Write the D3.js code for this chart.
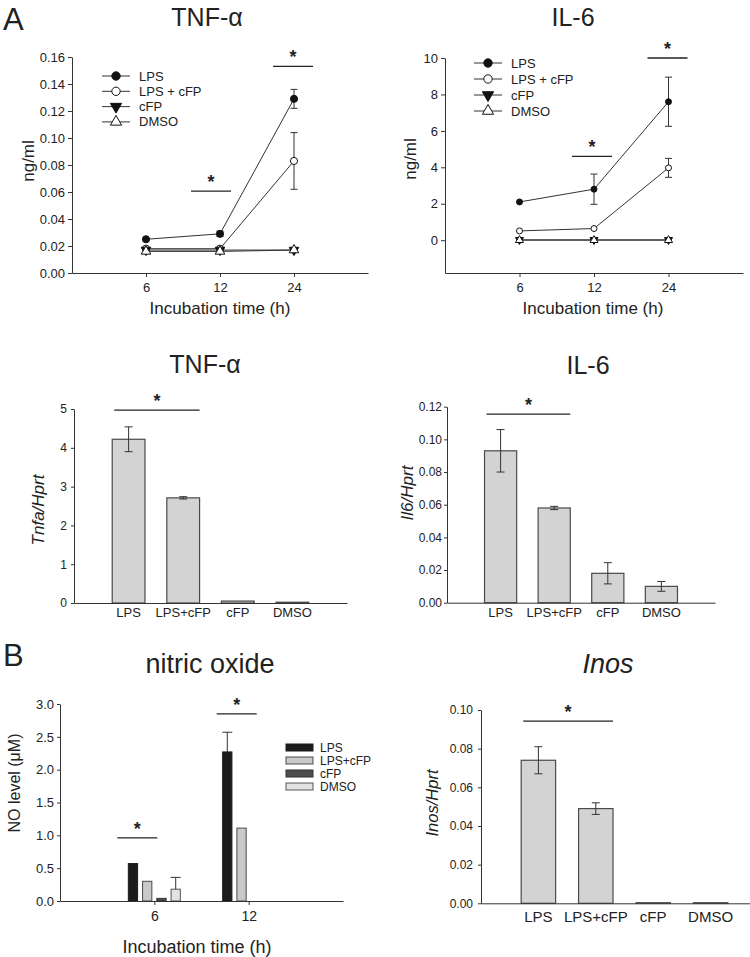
<!DOCTYPE html>
<html>
<head>
<meta charset="utf-8">
<script src="https://cdn.jsdelivr.net/npm/d3@7"></script>
<style>
  body { margin: 0; background: #fff; }
  svg { display: block; font-family: "Liberation Sans", Arial, sans-serif; }
</style>
</head>
<body>
<svg id="fig" width="750" height="957"></svg>
<script>
// ---- data ----
var timePoints = [6, 12, 24];
var lineGroups = ["LPS", "LPS + cFP", "cFP", "DMSO"];

// secreted protein, ng/ml  (rows = LPS, LPS+cFP, cFP, DMSO ; cols = 6, 12, 24 h)
var tnfMean = [[0.025, 0.029, 0.129], [0.018, 0.018, 0.083], [0.017, 0.017, 0.017], [0.016, 0.016, 0.017]];
var tnfErr  = [[0.0006, 0.002, 0.007], [0.0005, 0.0005, 0.021], [0, 0, 0], [0, 0, 0]];
var il6Mean = [[2.1, 2.8, 7.6], [0.51, 0.64, 3.97], [0.02, 0.02, 0.02], [0.0, 0.0, 0.0]];
var il6Err  = [[0.05, 0.83, 1.35], [0, 0.05, 0.52], [0, 0, 0], [0, 0, 0]];

// mRNA relative to Hprt
var barCats = ["LPS", "LPS+cFP", "cFP", "DMSO"];
var tnfaHprt = [4.22, 2.71, 0.05, 0.02];
var tnfaHprtErr = [0.32, 0.03, 0, 0];
var il6Hprt = [0.093, 0.058, 0.018, 0.010];
var il6HprtErr = [0.013, 0.001, 0.0065, 0.003];
var inosHprt = [0.074, 0.049, 0.0003, 0.0003];
var inosHprtErr = [0.007, 0.003, 0, 0];

// nitric oxide, uM  (rows = LPS, LPS+cFP, cFP, DMSO ; cols = 6, 12 h)
var noTimes = [6, 12];
var noGroups = ["LPS", "LPS+cFP", "cFP", "DMSO"];
var noMean = [[0.57, 2.27], [0.30, 1.11], [0.04, 0], [0.18, 0]];
var noErr  = [[0, 0.30], [0, 0], [0, 0], [0.18, 0]];

// ---- drawing ----
var svg = d3.select("#fig");
var ink = "#222";
var axisInk = "#333";

function styleAxis(g, size) {
  g.attr("font-family", null).attr("font-size", null);
  g.selectAll("path, line").attr("stroke", axisInk).attr("stroke-width", 1);
  g.selectAll("text").attr("font-size", size).attr("fill", ink);
}

function label(x, y, txt, size, opts) {
  opts = opts || {};
  var t = svg.append("text")
    .attr("x", x).attr("y", y)
    .attr("font-size", size)
    .attr("fill", ink)
    .attr("text-anchor", opts.anchor || "middle")
    .text(txt);
  if (opts.italic) t.attr("font-style", "italic");
  return t;
}

function yLabel(x, y, txt, size, italic) {
  svg.append("text")
    .attr("transform", `translate(${x},${y}) rotate(-90)`)
    .attr("text-anchor", "middle")
    .attr("dominant-baseline", "central")
    .attr("font-size", size)
    .attr("font-style", italic ? "italic" : null)
    .attr("fill", ink)
    .text(txt);
}

function sigBar(cx, y, half) {
  svg.append("line")
    .attr("x1", cx - half).attr("x2", cx + half)
    .attr("y1", y).attr("y2", y)
    .attr("stroke", ink).attr("stroke-width", 1.3);
  svg.append("text")
    .attr("x", cx).attr("y", y - 3)
    .attr("text-anchor", "middle")
    .attr("font-size", 18).attr("font-weight", "bold")
    .attr("fill", ink)
    .text("*");
}

function errBar(g, x, y0, y1, cap, color) {
  g.append("line").attr("x1", x).attr("x2", x).attr("y1", y0).attr("y2", y1)
    .attr("stroke", color).attr("stroke-width", 1);
  g.append("line").attr("x1", x - cap / 2).attr("x2", x + cap / 2).attr("y1", y1).attr("y2", y1)
    .attr("stroke", color).attr("stroke-width", 1);
}

var markerStyle = [
  { shape: d3.symbolCircle, fill: "#111", rot: 0 },
  { shape: d3.symbolCircle, fill: "#fff", rot: 0 },
  { shape: d3.symbolTriangle, fill: "#111", rot: 180 },
  { shape: d3.symbolTriangle, fill: "#fff", rot: 0 }
];

function marker(g, x, y, i, area) {
  var m = markerStyle[i];
  g.append("path")
    .attr("d", d3.symbol().type(m.shape).size(area)())
    .attr("transform", `translate(${x},${y}) rotate(${m.rot})`)
    .attr("fill", m.fill)
    .attr("stroke", "#111")
    .attr("stroke-width", 1);
}

function lineChart(o) {
  var x = d3.scaleLog().domain([3, 48]).range([o.left, o.right]);
  var y = d3.scaleLinear().domain(o.yDomain).range([o.bottom, o.top]);
  var g = svg.append("g");

  g.append("g")
    .attr("transform", `translate(0,${o.bottom})`)
    .call(d3.axisBottom(x).tickValues(timePoints).tickFormat(d3.format("d"))
      .tickSize(4).tickSizeOuter(0).tickPadding(6))
    .call(styleAxis, 13);

  g.append("g")
    .attr("transform", `translate(${o.left},0)`)
    .call(d3.axisLeft(y).tickValues(o.yTicks).tickFormat(o.fmt)
      .tickSize(4).tickSizeOuter(0).tickPadding(3))
    .call(styleAxis, 13);

  var line = d3.line().x(d => x(d.t)).y(d => y(d.v));
  lineGroups.forEach(function(name, i) {
    var pts = timePoints.map((t, j) => ({ t: t, v: o.mean[i][j], e: o.err[i][j] }));
    g.append("path").datum(pts)
      .attr("d", line)
      .attr("fill", "none")
      .attr("stroke", "#333")
      .attr("stroke-width", 1);
    pts.forEach(function(p) {
      if (p.e > 0.0008 * (o.yDomain[1] - o.yDomain[0]) * 10) {
        errBar(g, x(p.t), y(p.v), y(p.v + p.e), 7, "#333");
        errBar(g, x(p.t), y(p.v), y(p.v - p.e), 7, "#333");
      }
    });
  });
  lineGroups.forEach(function(name, i) {
    timePoints.forEach(function(t, j) {
      marker(g, x(t), y(o.mean[i][j]), i, o.markerArea);
    });
  });

  // legend
  lineGroups.forEach(function(name, i) {
    var ly = o.legY + i * o.legDy;
    g.append("line")
      .attr("x1", o.legX).attr("x2", o.legX + 28)
      .attr("y1", ly).attr("y2", ly)
      .attr("stroke", "#333").attr("stroke-width", 1);
    marker(g, o.legX + 14, ly, i, 55);
    g.append("text")
      .attr("x", o.legX + 37).attr("y", ly + 4.5)
      .attr("font-size", 13).attr("fill", ink)
      .text(name);
  });

  o.sig.forEach(s => sigBar(x(s.at) + s.dx, y(s.y), 20));
  return { x: x, y: y };
}

function barChart(o) {
  var x = d3.scaleBand().domain(barCats).range([o.left, o.right])
    .paddingInner(0.4).paddingOuter(0.7);
  var y = d3.scaleLinear().domain([0, o.max]).range([o.bottom, o.top]);
  var g = svg.append("g");

  g.append("g")
    .attr("transform", `translate(${o.left},0)`)
    .call(d3.axisLeft(y).tickValues(o.yTicks).tickFormat(o.fmt)
      .tickSize(3).tickSizeOuter(0).tickPadding(o.tickPad || 3))
    .call(styleAxis, o.tickFont || 12);

  g.selectAll("rect.bar")
    .data(barCats)
    .enter()
    .append("rect")
    .attr("class", "bar")
    .attr("x", d => x(d))
    .attr("y", (d, i) => y(o.values[i]))
    .attr("width", x.bandwidth())
    .attr("height", (d, i) => y(0) - y(o.values[i]))
    .attr("fill", "#d3d3d3")
    .attr("stroke", "#4a4a4a")
    .attr("stroke-width", 1.2);

  barCats.forEach(function(c, i) {
    var e = o.errors[i];
    if (e > 0) {
      var cx = x(c) + x.bandwidth() / 2;
      errBar(g, cx, y(o.values[i]), y(o.values[i] + e), 8, "#333");
      errBar(g, cx, y(o.values[i]), y(o.values[i] - e), 8, "#333");
    }
  });

  g.append("g")
    .attr("transform", `translate(0,${o.bottom})`)
    .call(d3.axisBottom(x).tickSize(0).tickSizeOuter(0).tickPadding(o.labelPad))
    .call(styleAxis, o.labelFont);

  var x1 = x(barCats[0]) + 2, x2 = x(barCats[1]) + x.bandwidth();
  sigBar((x1 + x2) / 2, y(o.sigY), (x2 - x1) / 2);
  return { x: x, y: y };
}

// ---- panel A, top row: secreted cytokines ----
label(3, 30, "A", 31, { anchor: "start" });

label(207, 26, "TNF-\u03b1", 25);
lineChart({
  left: 72, right: 368, top: 57, bottom: 273,
  yDomain: [0, 0.16], yTicks: d3.range(0, 0.161, 0.02), fmt: d3.format(".2f"),
  mean: tnfMean, err: tnfErr, markerArea: 40,
  legX: 102, legY: 76, legDy: 15.3,
  sig: [{ at: 12, dx: -9, y: 0.0607 }, { at: 24, dx: -1, y: 0.153 }]
});
yLabel(28, 161, "ng/ml", 17);
label(220, 314, "Incubation time (h)", 17);

label(573, 26, "IL-6", 25);
lineChart({
  left: 445, right: 743, top: 58, bottom: 273,
  yDomain: [-1.8, 10], yTicks: d3.range(0, 10.1, 2), fmt: d3.format("d"),
  mean: il6Mean, err: il6Err, markerArea: 28,
  legX: 474, legY: 63, legDy: 16,
  sig: [{ at: 12, dx: -2, y: 4.6 }, { at: 24, dx: -1, y: 10.0 }]
});
yLabel(410, 159, "ng/ml", 17);
label(593, 314, "Incubation time (h)", 17);

// ---- panel A, middle row: mRNA ----
label(205, 373, "TNF-\u03b1", 25);
barChart({
  left: 74, right: 347, top: 409, bottom: 603,
  max: 5, yTicks: d3.range(0, 5.1, 1), fmt: d3.format("d"), tickPad: 4,
  values: tnfaHprt, errors: tnfaHprtErr, sigY: 4.97,
  labelPad: 5, labelFont: 13
});
yLabel(38, 510, "Tnfa/Hprt", 17, true);

label(588, 374, "IL-6", 25);
barChart({
  left: 447, right: 715, top: 406.7, bottom: 602.7,
  max: 0.12, yTicks: d3.range(0, 0.121, 0.02), fmt: d3.format(".2f"), tickPad: 2,
  values: il6Hprt, errors: il6HprtErr, sigY: 0.1154,
  labelPad: 5, labelFont: 13
});
yLabel(407, 493, "Il6/Hprt", 17, true);

// ---- panel B: nitric oxide ----
label(3, 666, "B", 31, { anchor: "start" });
label(210, 673, "nitric oxide", 27);

var noColors = ["#1c1c1c", "#c9c9c9", "#4d4d4d", "#e2e2e2"];
var noStroke = ["#1c1c1c", "#4a4a4a", "#333", "#555"];

var xNo = d3.scaleLinear().domain([0, 18]).range([60, 343]);
var yNo = d3.scaleLinear().domain([0, 3]).range([901, 704]);
var xSub = d3.scaleBand().domain(noGroups).range([-26, 26]).paddingInner(0.35);

var gNo = svg.append("g");
gNo.append("g")
  .attr("transform", "translate(60,0)")
  .call(d3.axisLeft(yNo).tickValues(d3.range(0, 3.01, 0.5)).tickFormat(d3.format(".1f"))
    .tickSize(3).tickSizeOuter(0).tickPadding(3))
  .call(styleAxis, 13);

noGroups.forEach(function(gname, i) {
  noTimes.forEach(function(t, j) {
    var v = noMean[i][j];
    if (v <= 0) return;
    var bx = xNo(t) + xSub(gname);
    gNo.append("rect")
      .attr("x", bx).attr("y", yNo(v))
      .attr("width", xSub.bandwidth())
      .attr("height", yNo(0) - yNo(v))
      .attr("fill", noColors[i])
      .attr("stroke", noStroke[i]).attr("stroke-width", 1);
    if (noErr[i][j] > 0) {
      errBar(gNo, bx + xSub.bandwidth() / 2, yNo(v), yNo(v + noErr[i][j]), 10, "#333");
    }
  });
});

gNo.append("g")
  .attr("transform", "translate(0,901)")
  .call(d3.axisBottom(xNo).tickValues(noTimes).tickFormat(d3.format("d"))
    .tickSize(4).tickSizeOuter(0).tickPadding(6))
  .call(styleAxis, 14);

noGroups.forEach(function(gname, i) {
  var ly = 747.5 + i * 13;
  gNo.append("rect")
    .attr("x", 286).attr("y", ly - 3.5)
    .attr("width", 27).attr("height", 7)
    .attr("fill", noColors[i]).attr("stroke", noStroke[i]).attr("stroke-width", 1);
  gNo.append("text")
    .attr("x", 320).attr("y", ly + 4)
    .attr("font-size", 12).attr("fill", ink)
    .text(gname);
});

sigBar(xNo(6) - 17, yNo(0.96), 20);
sigBar(xNo(12) - 12, yNo(2.85), 20);

yLabel(14, 783, "NO level (\u03bcM)", 16);
label(197, 953, "Incubation time (h)", 18);

// ---- panel B: Inos mRNA ----
label(608, 673, "Inos", 27, { italic: true });
barChart({
  left: 481, right: 768, top: 710, bottom: 903.3,
  max: 0.1, yTicks: d3.range(0, 0.101, 0.02), fmt: d3.format(".2f"), tickPad: 5,
  tickFont: 12,
  values: inosHprt, errors: inosHprtErr, sigY: 0.0942,
  labelPad: 8, labelFont: 15
});
yLabel(432, 803, "Inos/Hprt", 16.5, true);
</script>
</body>
</html>
